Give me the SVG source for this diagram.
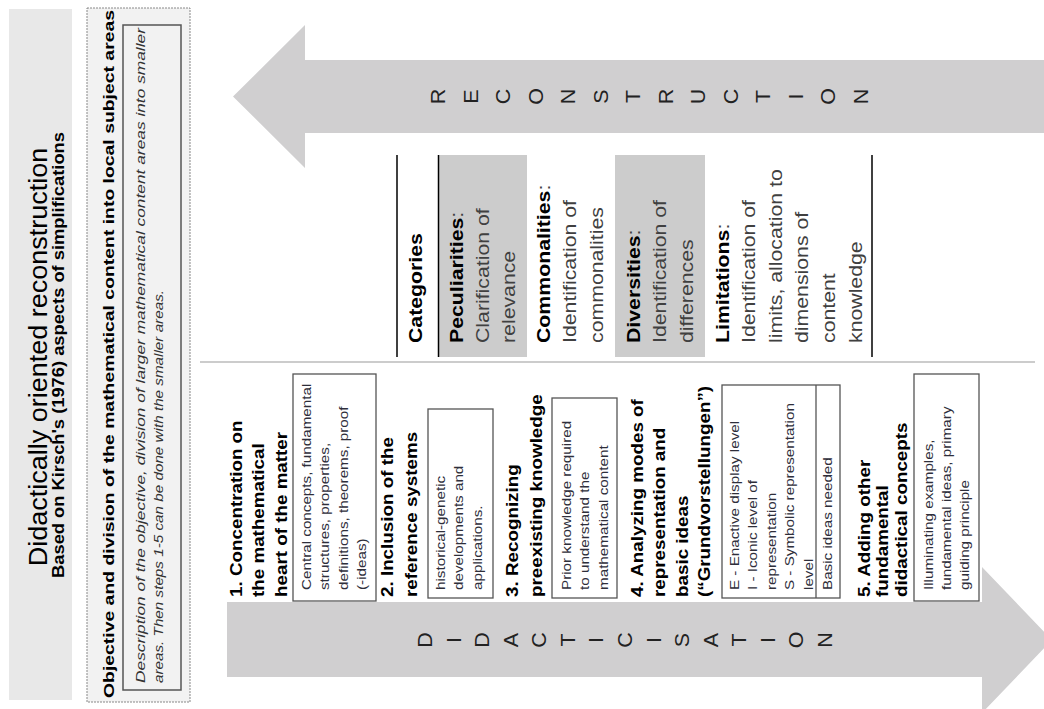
<svg xmlns="http://www.w3.org/2000/svg" width="1044" height="709" viewBox="0 0 1044 709">
<style>
text{font-family:"Liberation Sans",Arial,sans-serif}
.ttl{font-size:25px;fill:#000;text-anchor:middle}
.sub{font-size:16.5px;font-weight:bold;fill:#000;text-anchor:middle}
.obj{font-size:15.5px;font-weight:bold;fill:#000}
.it{font-size:13px;font-style:italic;fill:#333}
.h{font-size:16.8px;font-weight:bold;fill:#000}
.bx{font-size:13.6px;fill:#2e2e3a}
.cat{font-size:19px;fill:#404040}
.cb{font-weight:bold;fill:#000}
.let{font-size:19.5px;fill:#222;text-anchor:middle}
.box{fill:#fff;stroke:#555;stroke-width:1.3}
.arrow{fill:#d0cfd0}
.grey{fill:#cccccc}
.vl{stroke:#000;stroke-width:1.5}
</style>

<g id="title-panel">
  <rect x="9" y="9" width="63" height="691" fill="#e8e8e8"/>
  <text class="ttl" transform="translate(46.5,357) rotate(-90) scale(1.08,1)">Didactically oriented reconstruction</text>
  <text class="sub" transform="translate(64,355) rotate(-90) scale(1.11,1)">Based on Kirsch's (1976) aspects of simplifications</text>
</g>

<g id="objective">
  <rect x="87" y="8" width="103" height="694" fill="#f2f2f2" stroke="#888" stroke-width="1" stroke-dasharray="2,1"/>
  <text class="obj" transform="translate(113.5,698) rotate(-90)" textLength="688" lengthAdjust="spacingAndGlyphs">Objective and division of the mathematical content into local subject areas</text>
  <rect x="123" y="25" width="58" height="665" fill="#f2f2f2" stroke="#555" stroke-width="1.5"/>
  <text class="it" transform="translate(145,683) rotate(-90)" textLength="655" lengthAdjust="spacingAndGlyphs">Description of the objective, division of larger mathematical content areas into smaller</text>
  <text class="it" transform="translate(163,683) rotate(-90)" textLength="393" lengthAdjust="spacingAndGlyphs">areas. Then steps 1-5 can be done with the smaller areas.</text>
</g>

<g id="connectors">
  <polygon id="arrow-reconstruction" class="arrow" points="233,96.5 305,25 305,60 1044,60 1044,133 305,133 305,168"/>
  <polygon id="arrow-didacticisation" class="arrow" points="227,602 982,602 982,567 1052,640 982,713 982,677 227,677"/>
  <line x1="200" y1="362" x2="1035" y2="362" stroke="#9a9a9a" stroke-width="1.2"/>
</g>

<g id="label-reconstruction">
  <text class="let" transform="translate(445,96.5) rotate(-90) scale(1.1,1)">R</text>
  <text class="let" transform="translate(477.5,96.5) rotate(-90) scale(1.1,1)">E</text>
  <text class="let" transform="translate(510,96.5) rotate(-90) scale(1.1,1)">C</text>
  <text class="let" transform="translate(542.5,96.5) rotate(-90) scale(1.1,1)">O</text>
  <text class="let" transform="translate(575,96.5) rotate(-90) scale(1.1,1)">N</text>
  <text class="let" transform="translate(607.5,96.5) rotate(-90) scale(1.1,1)">S</text>
  <text class="let" transform="translate(640,96.5) rotate(-90) scale(1.1,1)">T</text>
  <text class="let" transform="translate(672.5,96.5) rotate(-90) scale(1.1,1)">R</text>
  <text class="let" transform="translate(705,96.5) rotate(-90) scale(1.1,1)">U</text>
  <text class="let" transform="translate(737.5,96.5) rotate(-90) scale(1.1,1)">C</text>
  <text class="let" transform="translate(770,96.5) rotate(-90) scale(1.1,1)">T</text>
  <text class="let" transform="translate(802.5,96.5) rotate(-90) scale(1.1,1)">I</text>
  <text class="let" transform="translate(835,96.5) rotate(-90) scale(1.1,1)">O</text>
  <text class="let" transform="translate(867.5,96.5) rotate(-90) scale(1.1,1)">N</text>
</g>

<g id="label-didacticisation">
  <text class="let" transform="translate(432,640) rotate(-90) scale(1.1,1)">D</text>
  <text class="let" transform="translate(460.6,640) rotate(-90) scale(1.1,1)">I</text>
  <text class="let" transform="translate(489.1,640) rotate(-90) scale(1.1,1)">D</text>
  <text class="let" transform="translate(517.7,640) rotate(-90) scale(1.1,1)">A</text>
  <text class="let" transform="translate(546.3,640) rotate(-90) scale(1.1,1)">C</text>
  <text class="let" transform="translate(574.8,640) rotate(-90) scale(1.1,1)">T</text>
  <text class="let" transform="translate(603.4,640) rotate(-90) scale(1.1,1)">I</text>
  <text class="let" transform="translate(632,640) rotate(-90) scale(1.1,1)">C</text>
  <text class="let" transform="translate(660.6,640) rotate(-90) scale(1.1,1)">I</text>
  <text class="let" transform="translate(689.1,640) rotate(-90) scale(1.1,1)">S</text>
  <text class="let" transform="translate(717.7,640) rotate(-90) scale(1.1,1)">A</text>
  <text class="let" transform="translate(746.3,640) rotate(-90) scale(1.1,1)">T</text>
  <text class="let" transform="translate(774.8,640) rotate(-90) scale(1.1,1)">I</text>
  <text class="let" transform="translate(803.4,640) rotate(-90) scale(1.1,1)">O</text>
  <text class="let" transform="translate(832,640) rotate(-90) scale(1.1,1)">N</text>
</g>

<g id="categories">
  <rect class="grey" x="438" y="155" width="89" height="202"/>
  <rect class="grey" x="615" y="155" width="90" height="202"/>
  <line class="vl" x1="397" y1="155" x2="397" y2="357"/>
  <line class="vl" x1="438.5" y1="155" x2="438.5" y2="357"/>
  <line class="vl" x1="872" y1="155" x2="872" y2="357"/>
  <text class="cat cb" transform="translate(421.5,343) rotate(-90) scale(1.12,1)">Categories</text>
  <text class="cat" transform="translate(462.5,343) rotate(-90) scale(1.12,1)"><tspan class="cb">Peculiarities</tspan>:<tspan x="0" dy="26.5">Clarification of</tspan><tspan x="0" dy="26.5">relevance</tspan></text>
  <text class="cat" transform="translate(549.5,343) rotate(-90) scale(1.12,1)"><tspan class="cb">Commonalities</tspan>:<tspan x="0" dy="27">Identification of</tspan><tspan x="0" dy="27">commonalities</tspan></text>
  <text class="cat" transform="translate(639.5,343) rotate(-90) scale(1.12,1)"><tspan class="cb">Diversities</tspan>:<tspan x="0" dy="27">Identification of</tspan><tspan x="0" dy="27">differences</tspan></text>
  <text class="cat" transform="translate(728.5,343) rotate(-90) scale(1.12,1)"><tspan class="cb">Limitations</tspan>:<tspan x="0" dy="27">Identification of</tspan><tspan x="0" dy="26.5">limits, allocation to</tspan><tspan x="0" dy="26.5">dimensions of</tspan><tspan x="0" dy="27">content</tspan><tspan x="0" dy="27">knowledge</tspan></text>
</g>

<g id="step1">
  <text class="h" transform="translate(242,597) rotate(-90) scale(1.12,1)">1. Concentration on<tspan x="0" dy="22.5">the mathematical</tspan><tspan x="0" dy="22.5">heart of the matter</tspan></text>
  <rect class="box" x="293" y="374" width="83" height="227"/>
  <text class="bx" transform="translate(311,590) rotate(-90) scale(1.12,1)">Central concepts, fundamental<tspan x="0" dy="18.5">structures, properties,</tspan><tspan x="0" dy="18.5">definitions, theorems, proof</tspan><tspan x="0" dy="18.5">(-ideas)</tspan></text>
</g>

<g id="step2">
  <text class="h" transform="translate(393,597) rotate(-90) scale(1.12,1)">2. Inclusion of the<tspan x="0" dy="24">reference systems</tspan></text>
  <rect class="box" x="428" y="409" width="65" height="189"/>
  <text class="bx" transform="translate(445,590) rotate(-90) scale(1.12,1)">historical-genetic<tspan x="0" dy="18.5">developments and</tspan><tspan x="0" dy="18.5">applications.</tspan></text>
</g>

<g id="step3">
  <text class="h" transform="translate(518,597) rotate(-90) scale(1.12,1)">3. Recognizing<tspan x="0" dy="24">preexisting knowledge</tspan></text>
  <rect class="box" x="552" y="398" width="65" height="200"/>
  <text class="bx" transform="translate(571,590) rotate(-90) scale(1.12,1)">Prior knowledge required<tspan x="0" dy="18.5">to understand the</tspan><tspan x="0" dy="18.5">mathematical content</tspan></text>
</g>

<g id="step4">
  <text class="h" transform="translate(643,597) rotate(-90) scale(1.12,1)">4. Analyzing modes of<tspan x="0" dy="22.5">representation and</tspan><tspan x="0" dy="22.5">basic ideas</tspan><tspan x="0" dy="22.5">(“Grundvorstellungen”)</tspan></text>
  <rect class="box" x="722" y="385" width="118" height="213"/>
  <line x1="816" y1="385" x2="816" y2="598" stroke="#555" stroke-width="1.3"/>
  <text class="bx" transform="translate(739,590) rotate(-90) scale(1.12,1)">E - Enactive display level<tspan x="0" dy="18.5">I - Iconic level of</tspan><tspan x="0" dy="18.5">representation</tspan><tspan x="0" dy="18.5">S - Symbolic representation</tspan><tspan x="0" dy="18.5">level</tspan></text>
  <text class="bx" transform="translate(832,590) rotate(-90) scale(1.12,1)">Basic ideas needed</text>
</g>

<g id="step5">
  <text class="h" transform="translate(870,597) rotate(-90) scale(1.12,1)">5. Adding other<tspan x="0" dy="18.5">fundamental</tspan><tspan x="0" dy="18.5">didactical concepts</tspan></text>
  <rect class="box" x="914" y="374" width="65" height="227"/>
  <text class="bx" transform="translate(932.5,590) rotate(-90) scale(1.12,1)">Illuminating examples,<tspan x="0" dy="18.5">fundamental ideas, primary</tspan><tspan x="0" dy="18.5">guiding principle</tspan></text>
</g>
</svg>
